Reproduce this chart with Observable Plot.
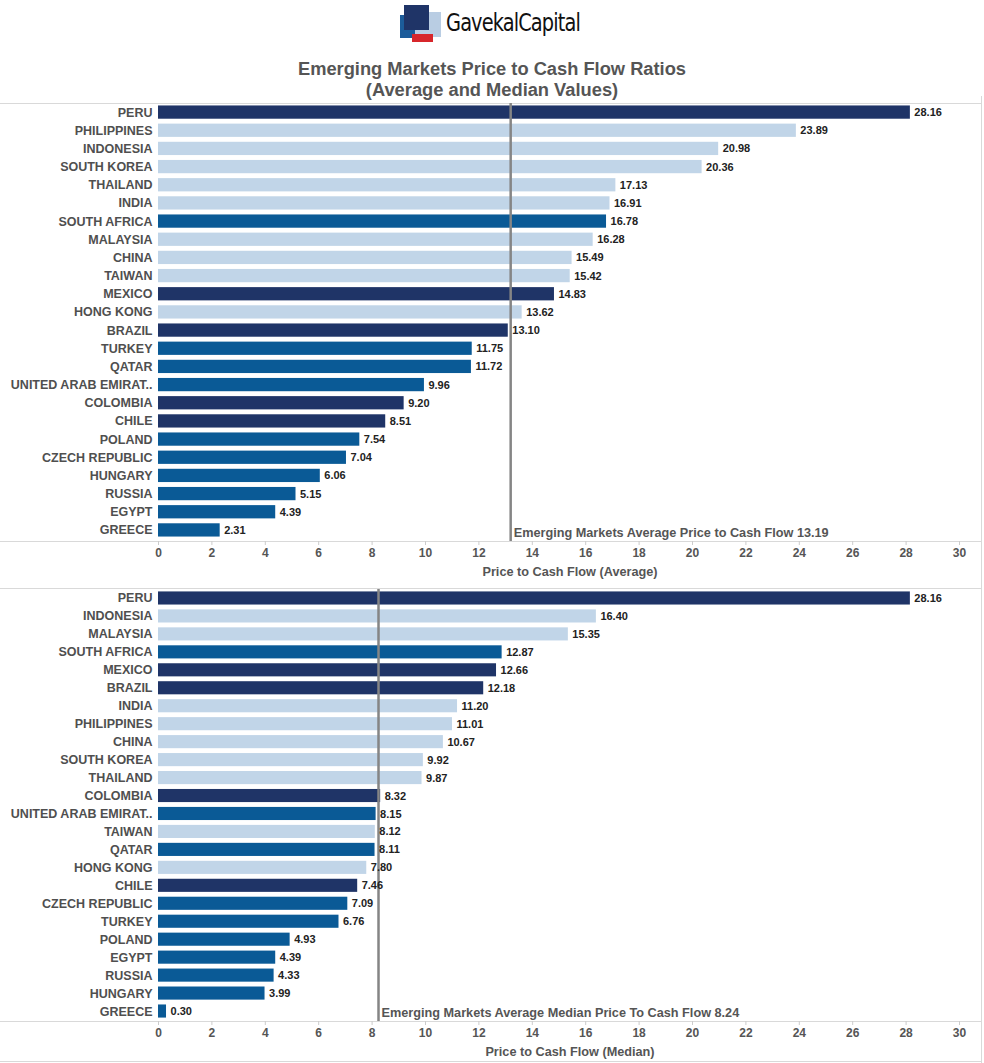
<!DOCTYPE html>
<html>
<head>
<meta charset="utf-8">
<script src="https://cdn.jsdelivr.net/npm/d3@7"></script>
<script src="https://cdn.jsdelivr.net/npm/@observablehq/plot@0.6"></script>
<style>
  html, body { margin: 0; padding: 0; background: #fff; }
  #root { position: relative; width: 984px; height: 1063px; overflow: hidden; font-family: "Liberation Sans", Arial, sans-serif; }
  .abs { position: absolute; }
  .hline { position: absolute; height: 1px; background: #d9d9d9; }
  .vline { position: absolute; width: 1px; background: #d9d9d9; }
  .title { position: absolute; left: 0; top: 58px; width: 984px; text-align: center; font-weight: bold; font-size: 18.3px; line-height: 21px; color: #555; }
  .panel { position: absolute; left: 0; }
  .panel svg { display: block; }
</style>
</head>
<body>
<div id="root">
  <!-- logo -->
  <div class="abs" style="left:400px;top:15px;width:19px;height:23px;background:#1c5c9a;"></div>
  <div class="abs" style="left:415px;top:12px;width:26px;height:25px;background:#b9cde3;"></div>
  <div class="abs" style="left:412px;top:34px;width:21px;height:8px;background:#d7262b;"></div>
  <div class="abs" style="left:404px;top:5px;width:25px;height:25px;background:#1f3467;"></div>
  <div class="abs" style="left:446px;top:8px;font-size:25px;line-height:30px;color:#111;letter-spacing:-1px;font-family:'DejaVu Sans Condensed','Liberation Sans',sans-serif;transform:scaleX(0.86);transform-origin:left;">GavekalCapital</div>

  <div class="title">Emerging Markets Price to Cash Flow Ratios<br>(Average and Median Values)</div>

  <div class="hline" style="left:0;top:103px;width:982px;"></div>
  <div class="hline" style="left:0;top:541px;width:982px;"></div>
  <div class="hline" style="left:0;top:588px;width:982px;"></div>
  <div class="hline" style="left:0;top:1021px;width:982px;"></div>
  <div class="hline" style="left:0;top:1061px;width:982px;"></div>
  <div class="vline" style="left:981px;top:96px;height:967px;"></div>

  <div id="top" class="panel" style="top:103px;"></div>
  <div id="bottom" class="panel" style="top:589px;"></div>
</div>
<script>
// ---------- data ----------
const avgCountries = ["PERU","PHILIPPINES","INDONESIA","SOUTH KOREA","THAILAND","INDIA","SOUTH AFRICA","MALAYSIA","CHINA","TAIWAN","MEXICO","HONG KONG","BRAZIL","TURKEY","QATAR","UNITED ARAB EMIRAT..","COLOMBIA","CHILE","POLAND","CZECH REPUBLIC","HUNGARY","RUSSIA","EGYPT","GREECE"];
const avgValues = [28.16,23.89,20.98,20.36,17.13,16.91,16.78,16.28,15.49,15.42,14.83,13.62,13.10,11.75,11.72,9.96,9.20,8.51,7.54,7.04,6.06,5.15,4.39,2.31];

const medCountries = ["PERU","INDONESIA","MALAYSIA","SOUTH AFRICA","MEXICO","BRAZIL","INDIA","PHILIPPINES","CHINA","SOUTH KOREA","THAILAND","COLOMBIA","UNITED ARAB EMIRAT..","TAIWAN","QATAR","HONG KONG","CHILE","CZECH REPUBLIC","TURKEY","POLAND","EGYPT","RUSSIA","HUNGARY","GREECE"];
const medValues = [28.16,16.40,15.35,12.87,12.66,12.18,11.20,11.01,10.67,9.92,9.87,8.32,8.15,8.12,8.11,7.80,7.46,7.09,6.76,4.93,4.39,4.33,3.99,0.30];

const latamCountries = ["PERU","MEXICO","BRAZIL","COLOMBIA","CHILE"];
const asiaCountries = ["PHILIPPINES","INDONESIA","SOUTH KOREA","THAILAND","INDIA","MALAYSIA","CHINA","TAIWAN","HONG KONG"];
const emeaCountries = ["SOUTH AFRICA","TURKEY","QATAR","UNITED ARAB EMIRAT..","POLAND","CZECH REPUBLIC","HUNGARY","RUSSIA","EGYPT","GREECE"];
const regionNames = ["Latin America","Asia","EMEA"];
const regionColors = ["#1f3467","#c1d5e8","#0a5a96"];

const avgReference = 13.19;
const medReference = 8.24;
const xTicks = [0,2,4,6,8,10,12,14,16,18,20,22,24,26,28,30];

function regionOf(c) {
  if (latamCountries.includes(c)) return regionNames[0];
  if (asiaCountries.includes(c)) return regionNames[1];
  return regionNames[2];
}

function panel(countries, values, refValue, refLabel, axisTitle, H, bandBottom, frameBottom) {
  const rows = countries.map((c, i) => ({country: c, value: values[i], region: regionOf(c)}));
  return Plot.plot({
    width: 984,
    height: H,
    marginLeft: 158,
    marginRight: 25,
    marginTop: 0,
    marginBottom: H - frameBottom,
    style: {fontFamily: "'Liberation Sans', Arial, sans-serif", background: "transparent"},
    x: {domain: [0, 30]},
    y: {domain: countries, range: [0, bandBottom], paddingInner: 0.27, paddingOuter: 0.135, round: false},
    color: {domain: regionNames, range: regionColors},
    marks: [
      Plot.barX(rows, {x: "value", y: "country", fill: "region"}),
      Plot.ruleX([refValue], {stroke: "#858585", strokeWidth: 2.5}),
      Plot.text(rows, {x: "value", y: "country", text: d => d.value.toFixed(2), dx: 4, textAnchor: "start", fontSize: 11, fontWeight: "bold", fill: "#222"}),
      Plot.text([refValue], {x: d => d, frameAnchor: "bottom", lineAnchor: "bottom", dx: 3, dy: -5, textAnchor: "start", text: () => refLabel, fontSize: 12.7, fontWeight: "bold", fill: "#555"}),
      Plot.axisY({tickSize: 0, tickPadding: 6, fontSize: 12.5, fontWeight: "bold", fill: "#4f4f4f", label: null}),
      Plot.axisX({ticks: xTicks, tickSize: 4, tickPadding: 3, stroke: "#cccccc", fill: "#555", fontSize: 12, fontWeight: "bold", tickFormat: d3.format("d"),
                  label: axisTitle, labelAnchor: "center", labelArrow: "none", labelOffset: 34})
    ]
  });
}

const topPlot = panel(avgCountries, avgValues, avgReference, "Emerging Markets Average Price to Cash Flow " + avgReference.toFixed(2), "Price to Cash Flow (Average)", 482, 436, 438);
const bottomPlot = panel(medCountries, medValues, medReference, "Emerging Markets Average Median Price To Cash Flow " + medReference.toFixed(2), "Price to Cash Flow (Median)", 474, 431, 432);
document.getElementById("top").appendChild(topPlot);
document.getElementById("bottom").appendChild(bottomPlot);
// style axis titles (shifted right as in the original layout)
for (const svg of [topPlot, bottomPlot]) {
  svg.querySelectorAll("[aria-label='x-axis label']").forEach(g => {
    g.setAttribute("transform", (g.getAttribute("transform") || "") + " translate(11,0)");
    g.querySelectorAll("text").forEach(t => { t.setAttribute("font-size", "12.7"); t.setAttribute("font-weight", "bold"); t.setAttribute("fill", "#555"); });
  });
}
</script>
</body>
</html>
